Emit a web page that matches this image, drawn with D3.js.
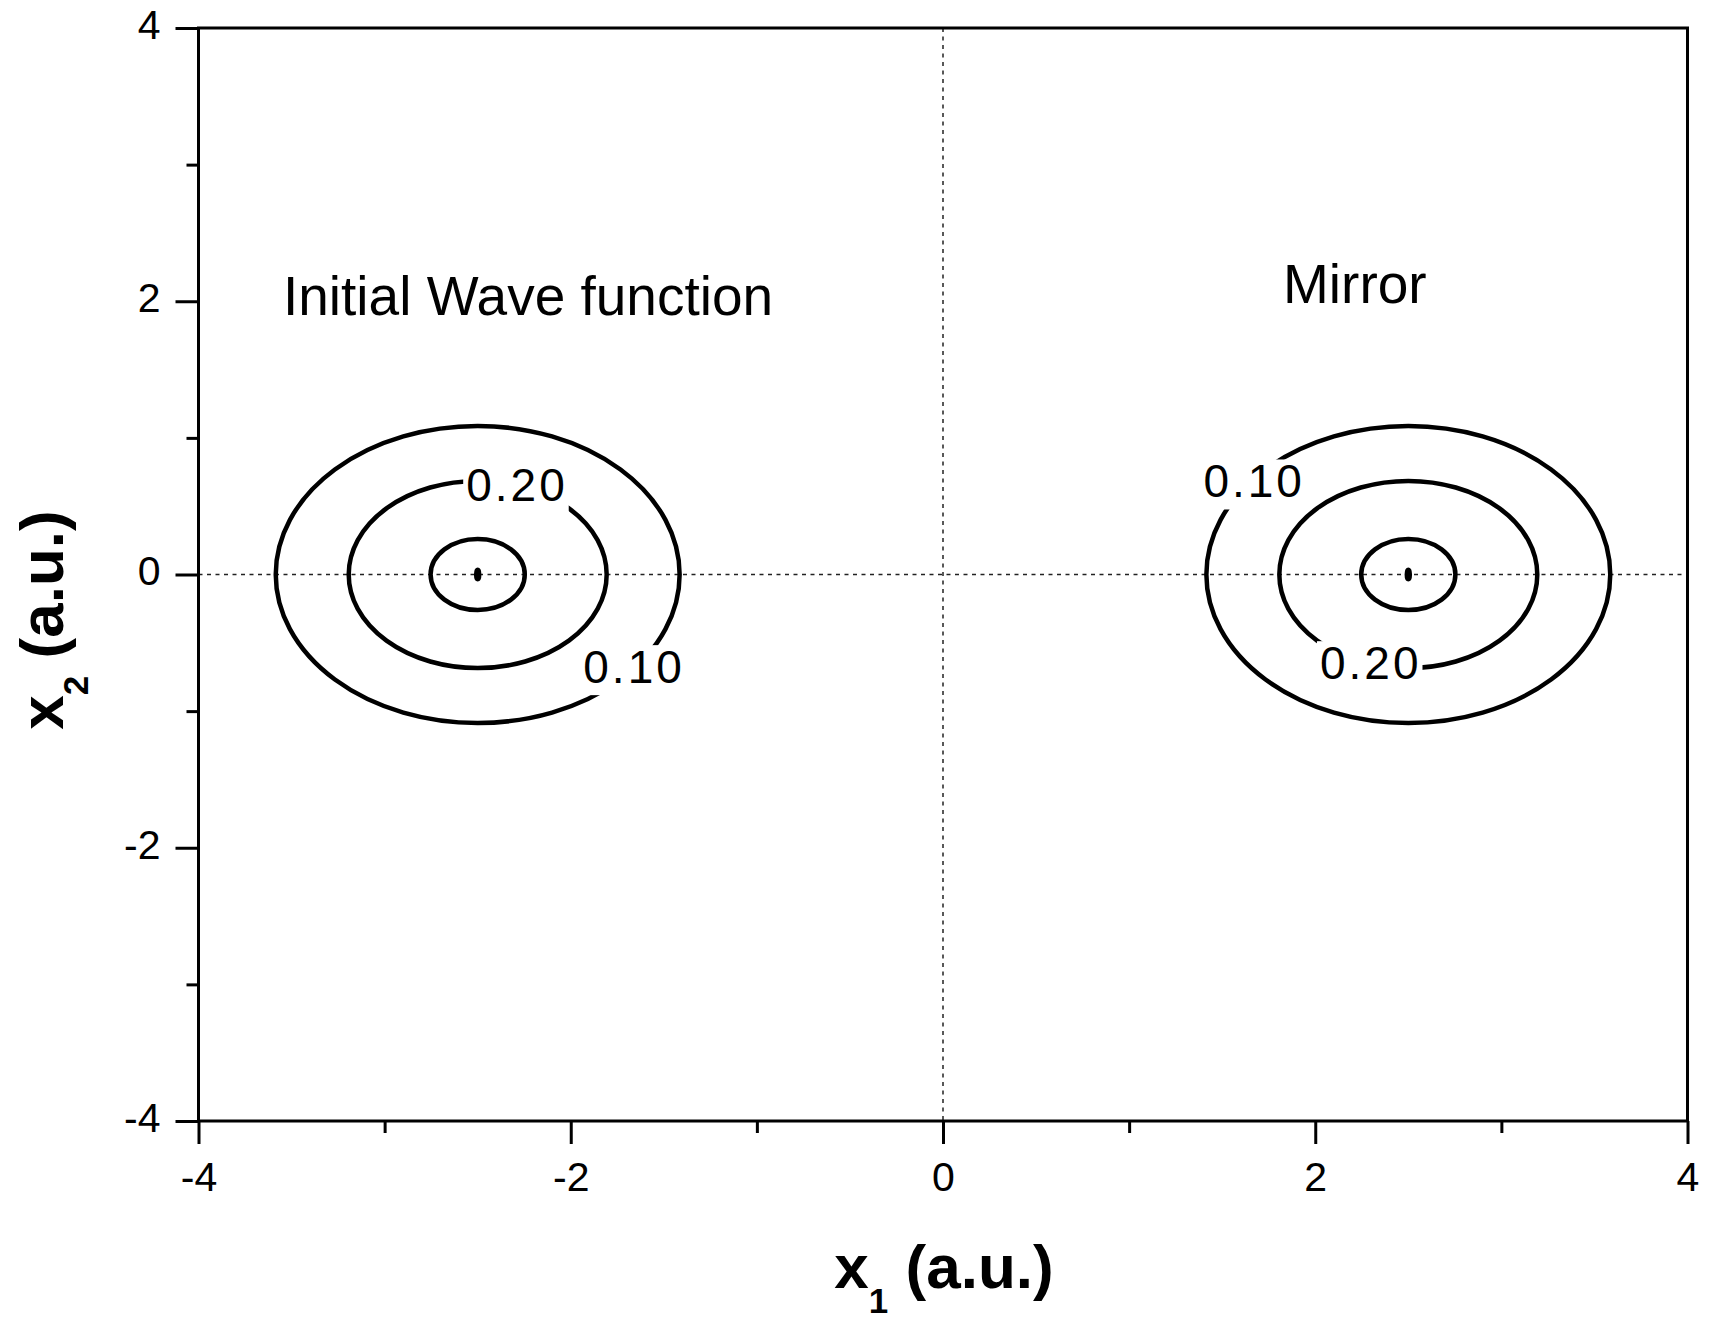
<!DOCTYPE html>
<html>
<head>
<meta charset="utf-8">
<script src="https://cdn.jsdelivr.net/npm/d3@7"></script>
<style>
  html, body { margin: 0; padding: 0; background: #fff; }
  svg { display: block; font-family: "Liberation Sans", Arial, Helvetica, sans-serif; }
</style>
</head>
<body>
<svg id="chart" width="1712" height="1322"></svg>
<script>
// Axis ticks
const majorTicks = [-4, -2, 0, 2, 4];
const minorTicks = [-3, -1, 1, 3];

// Wave packets: the initial one and its mirror image
const packetNames = ["Initial Wave function", "Mirror"];
const packetX1 = [-2.5, 2.5];
const packetX2 = [0, 0];
const nameX1 = [-3.546, 1.827];
const nameX2 = [1.90, 1.988];

// Contour rings (half-widths along x1 and x2, in a.u.)
const contourLevels = [0.10, 0.20, 0.30, 0.318];
const ringHalfX1 = [1.085, 0.693, 0.253, 0.008];
const ringHalfX2 = [1.087, 0.685, 0.260, 0.035];

// Contour level labels: which level, and where the label sits
const labelLevel = [0.20, 0.10, 0.10, 0.20];
const labelX1 = [-2.289, -1.660, 1.672, 2.298];
const labelX2 = [0.656, -0.674, 0.685, -0.645];

const svg = d3.select("#chart");
const x = d3.scaleLinear().domain([-4, 4]).range([198.5, 1687.5]);
const y = d3.scaleLinear().domain([-4, 4]).range([1121, 28]);
const plain = d => String(d);   // hyphen-minus, as on the printed axes

// Dotted zero lines
const zero = svg.append("g")
  .attr("stroke", "#222")
  .attr("stroke-width", 1.5)
  .attr("stroke-dasharray", "4,4.5");
zero.append("line")
  .attr("x1", x(-4)).attr("x2", x(4))
  .attr("y1", y(0)).attr("y2", y(0));
zero.append("line")
  .attr("x1", x(0)).attr("x2", x(0))
  .attr("y1", y(4)).attr("y2", y(-4));

// Axes
function styleAxis(g) {
  g.select(".domain").remove();
  g.selectAll(".tick line").attr("stroke", "#000").attr("stroke-width", 3);
  g.selectAll(".tick text").attr("fill", "#000").attr("font-size", 41)
    .attr("font-family", "'Liberation Sans', Arial, Helvetica, sans-serif");
}
svg.append("g")
  .attr("transform", `translate(0,${y(-4)})`)
  .call(d3.axisBottom(x).tickValues(majorTicks).tickFormat(plain)
    .tickSize(23).tickPadding(18).tickSizeOuter(0))
  .call(styleAxis);
svg.append("g")
  .attr("transform", `translate(0,${y(-4)})`)
  .call(d3.axisBottom(x).tickValues(minorTicks).tickSize(12).tickFormat("").tickSizeOuter(0))
  .call(styleAxis);
svg.append("g")
  .attr("transform", `translate(${x(-4)},0)`)
  .call(d3.axisLeft(y).tickValues(majorTicks).tickFormat(plain)
    .tickSize(23).tickPadding(15).tickSizeOuter(0))
  .call(styleAxis)
  .call(g => g.selectAll(".tick text").attr("dy", "0.25em"));
svg.append("g")
  .attr("transform", `translate(${x(-4)},0)`)
  .call(d3.axisLeft(y).tickValues(minorTicks).tickSize(12).tickFormat("").tickSizeOuter(0))
  .call(styleAxis);

// Plot frame
svg.append("rect")
  .attr("x", x(-4)).attr("y", y(4))
  .attr("width", x(4) - x(-4)).attr("height", y(-4) - y(4))
  .attr("fill", "none").attr("stroke", "#000").attr("stroke-width", 3);

// Contour rings around each packet centre
const rings = [];
packetX1.forEach((cx, p) => {
  contourLevels.forEach((lv, i) => {
    rings.push({ cx, cy: packetX2[p], rx: ringHalfX1[i], ry: ringHalfX2[i], level: lv });
  });
});
svg.append("g")
  .selectAll("ellipse")
  .data(rings)
  .join("ellipse")
  .attr("cx", d => x(d.cx))
  .attr("cy", d => y(d.cy))
  .attr("rx", d => x(d.rx) - x(0))
  .attr("ry", d => y(0) - y(d.ry))
  .attr("fill", "none")
  .attr("stroke", "#000")
  .attr("stroke-width", 4.5);

// Contour labels, each on a white patch that breaks its ring
const fmt = d3.format(".2f");
const labelG = svg.append("g");
labelLevel.forEach((lv, i) => {
  const g = labelG.append("g");
  const t = g.append("text")
    .attr("x", x(labelX1[i]))
    .attr("y", y(labelX2[i]))
    .attr("dy", "0.36em")
    .attr("text-anchor", "middle")
    .attr("font-size", 46)
    .attr("letter-spacing", 3)
    .attr("fill", "#000")
    .text(fmt(lv));
  const b = t.node().getBBox();
  g.insert("rect", "text")
    .attr("x", b.x - 3).attr("y", b.y + 4)
    .attr("width", b.width + 4).attr("height", b.height - 2)
    .attr("fill", "#fff");
});

// Packet names
svg.append("g")
  .selectAll("text")
  .data(packetNames)
  .join("text")
  .attr("x", (d, i) => x(nameX1[i]))
  .attr("y", (d, i) => y(nameX2[i]))
  .attr("font-size", 55)
  .attr("fill", "#000")
  .text(d => d);

// Axis titles
function axisTitle(sel, sub) {
  sel.attr("font-size", 62).attr("font-weight", "bold").attr("fill", "#000")
    .attr("text-anchor", "middle");
  sel.append("tspan").text("x");
  sel.append("tspan").attr("font-size", 35).attr("dy", 25).text(sub);
  sel.append("tspan").attr("dy", -25).text(" (a.u.)");
}
svg.append("text")
  .attr("x", 944).attr("y", 1288)
  .call(axisTitle, "1");
svg.append("text")
  .attr("transform", "translate(63,620) rotate(-90)")
  .call(axisTitle, "2");
</script>
</body>
</html>
